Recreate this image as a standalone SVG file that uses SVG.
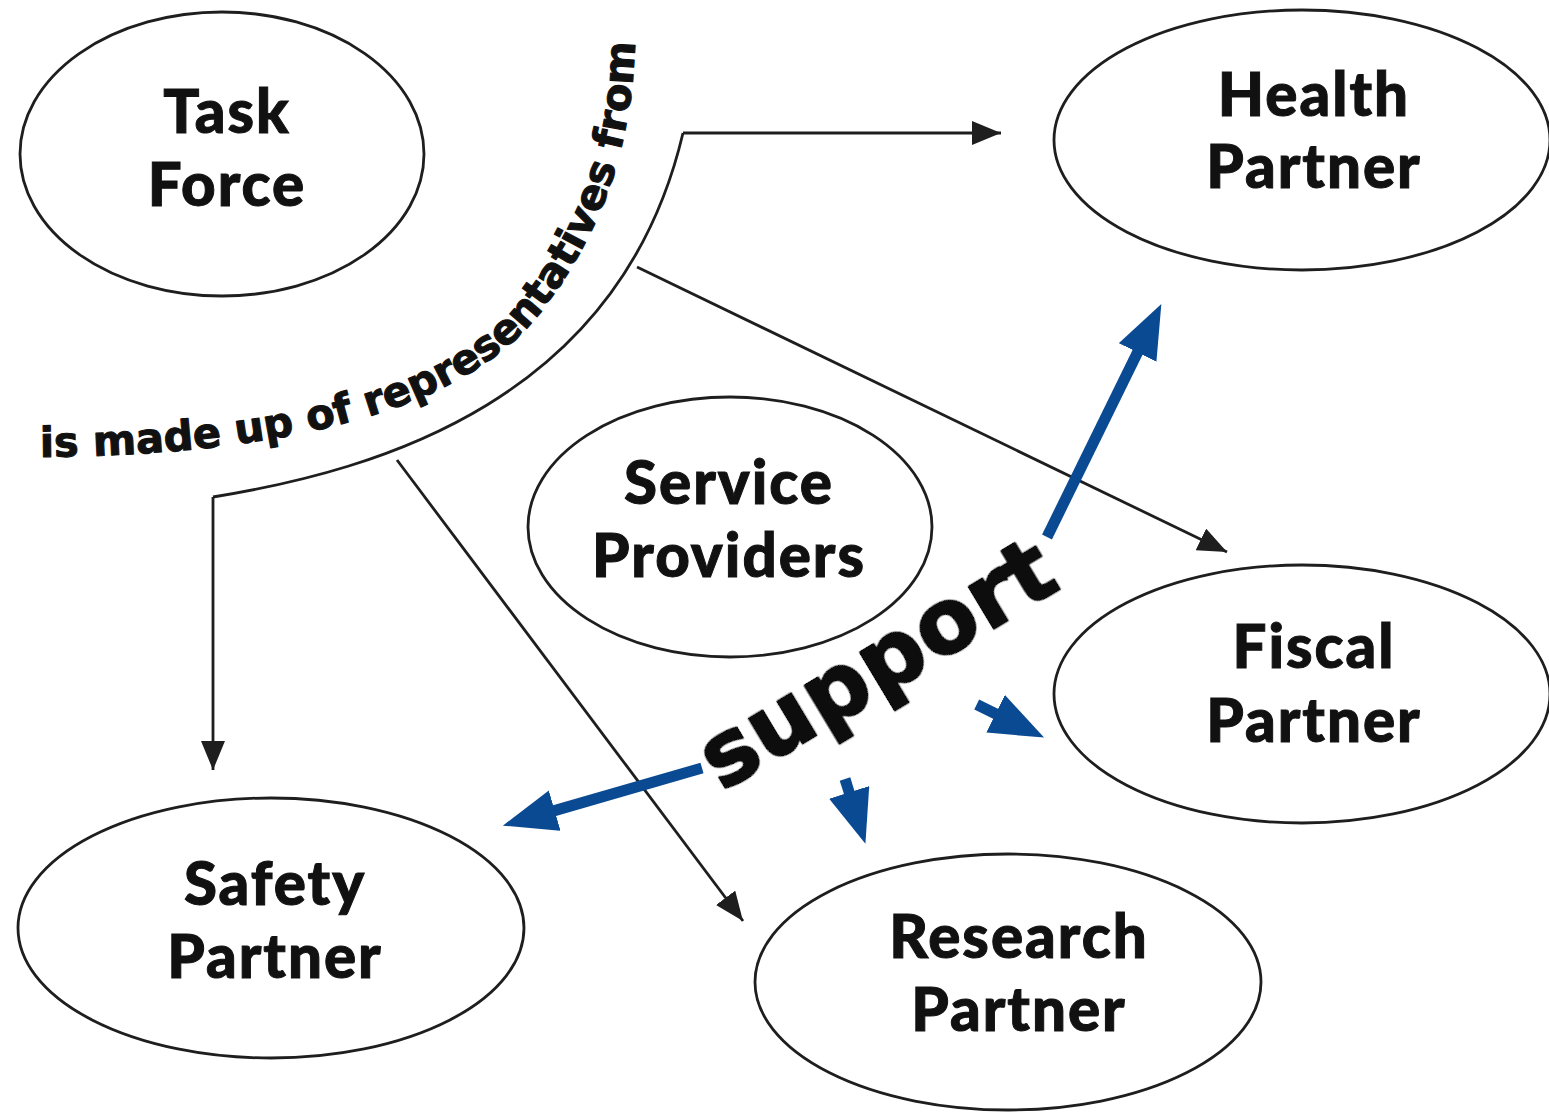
<svg xmlns="http://www.w3.org/2000/svg" width="1549" height="1113" viewBox="0 0 1549 1113">
<defs>
<style>
.node{fill:#fff;stroke:#1e1e1e;stroke-width:2.8}
.lbl{font-family:Lato,"Open Sans","Liberation Sans",sans-serif;font-weight:900;font-size:60px;fill:#111;stroke:#111;stroke-width:1;text-anchor:middle;letter-spacing:2px}
.con{fill:none;stroke:#1e1e1e;stroke-width:2.8}
.blue{fill:none;stroke:#0a4a92;stroke-width:11}
.curv{font-family:"DejaVu Sans","Liberation Sans",sans-serif;font-weight:bold;font-size:41.5px;fill:#111;stroke:#111;stroke-width:1.1;stroke-linejoin:round}
.sup{font-family:"DejaVu Sans","Liberation Sans",sans-serif;font-weight:bold;font-size:89px;fill:#111;stroke:#111;stroke-width:3;stroke-linejoin:round;letter-spacing:1px}
</style>
<filter id="halo" x="-20%" y="-40%" width="140%" height="180%">
<feMorphology in="SourceAlpha" operator="dilate" radius="6" result="d"/>
<feFlood flood-color="#fff"/>
<feComposite in2="d" operator="in" result="w"/>
<feMerge><feMergeNode in="w"/><feMergeNode in="SourceGraphic"/></feMerge>
</filter>
<marker id="ah" markerUnits="userSpaceOnUse" markerWidth="32" markerHeight="26" refX="29" refY="12" orient="auto">
<path d="M0,0 L29,12 L0,24 z" fill="#1e1e1e"/>
</marker>
<marker id="bh" markerUnits="userSpaceOnUse" markerWidth="56" markerHeight="44" refX="1" refY="21" orient="auto">
<path d="M0,0 L54,21 L0,42 z" fill="#0a4a92"/>
</marker>
<path id="tp" d="M40,457 C260,455 460,420 544,308 C586,252 632,170 635,40"/>
</defs>
<rect width="1549" height="1113" fill="#fff"/>

<g id="task-force"><ellipse class="node" cx="222" cy="154" rx="202" ry="142"/><text class="lbl" x="227" y="133">Task</text><text class="lbl" x="227" y="206">Force</text></g>
<g id="health-partner"><ellipse class="node" cx="1302" cy="140" rx="248" ry="130"/><text class="lbl" x="1314" y="116">Health</text><text class="lbl" x="1314" y="188">Partner</text></g>
<g id="service-providers"><ellipse class="node" cx="730" cy="527" rx="202" ry="130"/><text class="lbl" x="729" y="504">Service</text><text class="lbl" x="729" y="577">Providers</text></g>
<g id="fiscal-partner"><ellipse class="node" cx="1302" cy="694" rx="248" ry="129"/><text class="lbl" x="1314" y="668">Fiscal</text><text class="lbl" x="1314" y="742">Partner</text></g>
<g id="safety-partner"><ellipse class="node" cx="271" cy="928" rx="253" ry="130"/><text class="lbl" x="275" y="905">Safety</text><text class="lbl" x="275" y="978">Partner</text></g>
<g id="research-partner"><ellipse class="node" cx="1008" cy="982" rx="253" ry="128"/><text class="lbl" x="1019" y="958">Research</text><text class="lbl" x="1019" y="1031">Partner</text></g>

<g id="connectors">
<path class="con" d="M683,133 C620,400 380,470 213,497"/>
<path class="con" d="M683,133 L1001,133" marker-end="url(#ah)"/>
<path class="con" d="M213,497 L213,770" marker-end="url(#ah)"/>
<path class="con" d="M637,267 L1227,552" marker-end="url(#ah)"/>
<path class="con" d="M397,460 L743,921" marker-end="url(#ah)"/>
<text class="curv"><textPath href="#tp">is made up of representatives from</textPath></text>
<path class="blue" d="M1047,537 L1138,351.5" marker-end="url(#bh)"/>
<path class="blue" d="M702,768 L553.7,810.9" marker-end="url(#bh)"/>
<path class="blue" d="M976.7,704.5 L996.5,714.2" marker-end="url(#bh)"/>
<path class="blue" d="M845,779 L849.5,793.3" marker-end="url(#bh)"/>
<text class="sup" filter="url(#halo)" transform="translate(722,792) rotate(-31)">support</text>
</g>
</svg>
